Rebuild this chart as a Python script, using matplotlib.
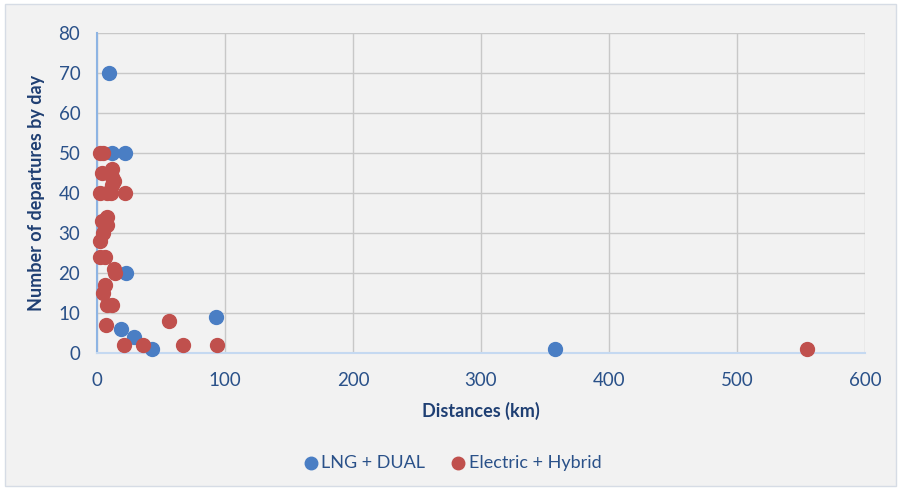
import matplotlib.pyplot as plt
from matplotlib.patches import Rectangle

# distances (km) and departures per day
lng_dist = [9, 12, 22, 23, 19, 29, 43, 93, 358]
lng_dep = [70, 50, 50, 20, 6, 4, 1, 9, 1]

elec_dist = [2, 5, 4, 12, 12, 12, 13, 2, 11, 8, 22, 8, 4, 8, 5, 2, 2, 6,
             13, 14, 6, 5, 8, 12, 7, 21, 36, 56, 67, 94, 555]
elec_dep = [50, 50, 45, 46, 44, 42, 43, 40, 40, 40, 40, 34, 33, 32, 30, 28, 24, 24,
            21, 20, 17, 15, 12, 12, 7, 2, 2, 8, 2, 2, 1]

x_ticks = [0, 100, 200, 300, 400, 500, 600]
y_ticks = [0, 10, 20, 30, 40, 50, 60, 70, 80]

bg = '#f2f2f2'
tick_col = '#2a5189'
lab_col = '#1f3f73'
blue = '#4a7ec4'
red = '#c0504d'

plt.rcParams['font.family'] = ['Lato', 'DejaVu Sans']

fig = plt.figure(figsize=(9.01, 4.90), dpi=100, facecolor='white')
fig.patches.append(Rectangle((5 / 901, 4 / 490), 891 / 901, 482 / 490,
                             transform=fig.transFigure, facecolor=bg,
                             edgecolor='#d6dce5', linewidth=1, zorder=-5))

ax = fig.add_axes([97 / 901, 1 - 353 / 490, 768 / 901, 320 / 490])
ax.set_facecolor(bg)
ax.set_xlim(0, 600)
ax.set_ylim(0, 80)
ax.set_xticks(x_ticks)
ax.set_yticks(y_ticks)
ax.grid(True, color='#c8c8c8', linewidth=1)
ax.set_axisbelow(True)
for side in ['top', 'right']:
    ax.spines[side].set_visible(False)
ax.spines['left'].set_color('#8eb4e3')
ax.spines['bottom'].set_color('#c5d9f1')
ax.spines['left'].set_linewidth(1.5)
ax.spines['bottom'].set_linewidth(1.5)
ax.tick_params(length=0, labelsize=13.5, colors=tick_col)
ax.tick_params(axis='x', pad=14)
ax.tick_params(axis='y', pad=12)

ax.scatter(lng_dist, lng_dep, s=100, color=blue, label='LNG + DUAL', zorder=3,
           clip_on=False)
ax.scatter(elec_dist, elec_dep, s=100, color=red, label='Electric + Hybrid', zorder=3,
           clip_on=False)

ax.set_xlabel('Distances (km)', fontsize=13, fontweight='bold', color=lab_col, labelpad=9)
ax.set_ylabel('Number of departures by day', fontsize=13, fontweight='bold', color=lab_col,
              labelpad=10)

leg = fig.legend(loc='center', bbox_to_anchor=(0.5, 1 - 463 / 490), ncol=2,
                 frameon=False, fontsize=13, handletextpad=0.0, columnspacing=1.2,
                 markerscale=0.9, handlelength=1.2)
for t in leg.get_texts():
    t.set_color(tick_col)

fig.savefig('out.png', dpi=100, facecolor='white')
